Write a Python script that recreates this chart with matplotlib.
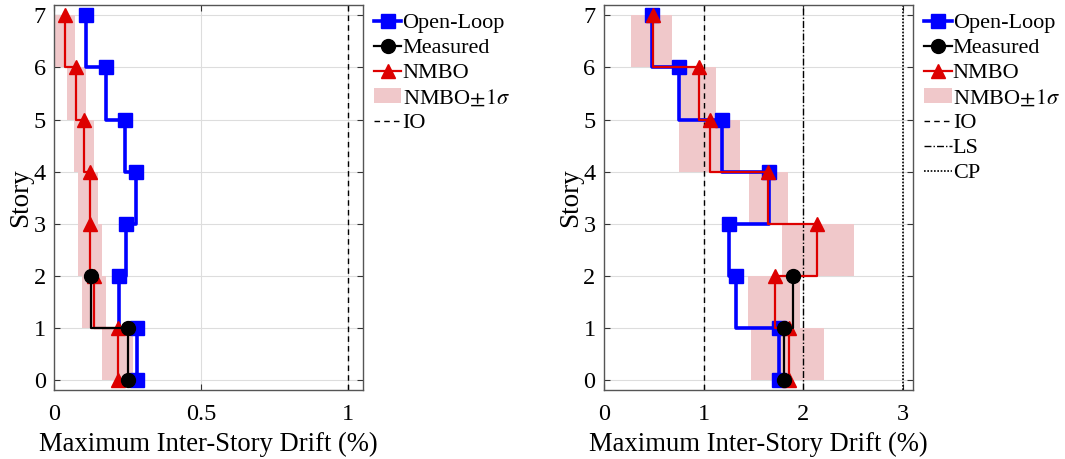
import matplotlib
matplotlib.use("Agg")
import matplotlib.pyplot as plt
import numpy as np
from matplotlib.patches import Patch
from matplotlib.lines import Line2D

plt.rcParams['font.family'] = ['Liberation Serif', 'DejaVu Serif']
plt.rcParams['mathtext.fontset'] = 'stix'

stories = [0, 1, 2, 3, 4, 5, 6, 7]

# Left panel (values at story levels 0..7; level 0 repeats story 1)
left_open = [0.283, 0.283, 0.221, 0.244, 0.280, 0.240, 0.178, 0.108]
left_nmbo = [0.216, 0.216, 0.135, 0.121, 0.121, 0.101, 0.076, 0.039]
left_lo = [0.164, 0.164, 0.096, 0.082, 0.082, 0.067, 0.045, 0.005]
left_hi = [0.269, 0.269, 0.176, 0.164, 0.150, 0.135, 0.108, 0.070]
left_meas_st = [0, 1, 2]
left_meas = [0.252, 0.252, 0.127]

# Right panel
right_open = [1.757, 1.757, 1.320, 1.256, 1.654, 1.180, 0.755, 0.478]
right_nmbo = [1.858, 1.858, 1.714, 2.138, 1.647, 1.059, 0.949, 0.488]
right_lo = [1.477, 1.477, 1.447, 1.784, 1.457, 0.755, 0.755, 0.271]
right_hi = [2.209, 2.209, 1.971, 2.503, 1.841, 1.363, 1.123, 0.688]
right_meas_st = [0, 1, 2]
right_meas = [1.804, 1.804, 1.898]

shade_color = '#F0C8CA'


def panel(ax, op, nm, lo, hi, mst, me, xmax, xticks, xticklabels, refs):
    # shaded +-1 sigma bands between story k-1 and k
    for k in range(1, 8):
        ax.fill_betweenx([k - 1, k], lo[k], hi[k], color=shade_color,
                         linewidth=0, zorder=1)
    ax.plot(op, stories, drawstyle='steps-post', color='#0000FF', lw=2.6,
            marker='s', ms=10, zorder=3)
    ax.plot(nm, stories, drawstyle='steps-post', color='#DD0000', lw=1.6,
            marker='^', ms=10, zorder=4)
    ax.plot(me, mst, drawstyle='steps-post', color='black', lw=1.6,
            marker='o', ms=10, zorder=5)
    for xv, ls, lw in refs:
        ax.axvline(xv, color='black', ls=ls, lw=lw, zorder=2)
    ax.set_xlim(0, xmax)
    ax.set_ylim(-0.2, 7.2)
    ax.set_xticks(xticks)
    ax.set_xticklabels(xticklabels)
    ax.set_yticks(stories)
    ax.grid(True, color='#DDDDDD', lw=0.8, zorder=0)
    ax.set_axisbelow(True)
    ax.tick_params(direction='in', top=True, right=True, length=4,
                   labelsize=17.5, color='#333333')
    ax.tick_params(axis='x', pad=10)
    ax.tick_params(axis='y', pad=6)
    for s in ax.spines.values():
        s.set_color('#555555')
        s.set_linewidth(1.0)
    ax.set_xlabel('Maximum Inter-Story Drift (%)', fontsize=19.2, labelpad=5)
    ax.set_ylabel('Story', fontsize=19.5, labelpad=0)


fig = plt.figure(figsize=(10.65, 4.59), dpi=100)
ax1 = fig.add_axes([0.0507, 0.150, 0.290, 0.839])
ax2 = fig.add_axes([0.567, 0.150, 0.2904, 0.839])

panel(ax1, left_open, left_nmbo, left_lo, left_hi, left_meas_st, left_meas,
      1.05, [0, 0.5, 1], ['0', '0.5', '1'], [(1, (0, (4, 3)), 1.0)])
panel(ax2, right_open, right_nmbo, right_lo, right_hi, right_meas_st, right_meas,
      3.1, [0, 1, 2, 3], ['0', '1', '2', '3'],
      [(1, (0, (4, 3)), 1.0), (2, (0, (5, 1.5, 1, 1.5)), 1.0), (3, (0, (1, 1)), 1.2)])

base_handles = [
    Line2D([], [], color='#0000FF', lw=2.6, marker='s', ms=10),
    Line2D([], [], color='black', lw=1.6, marker='o', ms=10),
    Line2D([], [], color='#DD0000', lw=1.6, marker='^', ms=10),
    Patch(facecolor=shade_color, edgecolor='none'),
    Line2D([], [], color='black', lw=1.0, ls=(0, (4, 3))),
]
base_labels = ['Open-Loop', 'Measured', 'NMBO', r'NMBO$\pm1\sigma$', 'IO']

leg_kw = dict(loc='upper left', frameon=False, fontsize=16, handlelength=1.25,
              handletextpad=0.05, labelspacing=0.2, borderaxespad=0.0,
              borderpad=0.0)
ax1.legend(base_handles, base_labels, bbox_to_anchor=(1.035, 0.98), **leg_kw)

right_handles = base_handles + [
    Line2D([], [], color='black', lw=1.0, ls=(0, (5, 1.5, 1, 1.5))),
    Line2D([], [], color='black', lw=1.2, ls=(0, (1, 1))),
]
right_labels = base_labels + ['LS', 'CP']
ax2.legend(right_handles, right_labels, bbox_to_anchor=(1.035, 0.98), **leg_kw)

fig.savefig('out.png', dpi=100)
